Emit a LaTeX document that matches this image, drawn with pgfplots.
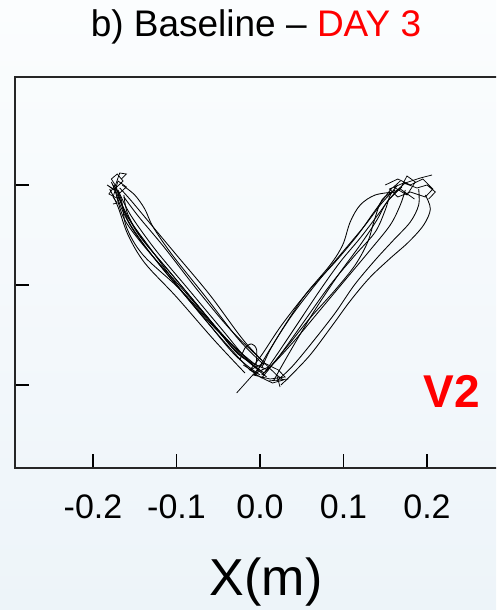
\documentclass[border=0pt]{standalone}
\usepackage{pgfplots}
\pgfplotsset{compat=1.18}
\usepackage{fontspec}
\setmainfont{Liberation Sans}
\definecolor{bgtop}{HTML}{FBFDFE}
\definecolor{bgbot}{HTML}{EDF4F9}
\tikzset{tr/.style={black, line width=0.85pt, smooth, tension=0.55, mark=none},
         sq/.style={black, line width=0.75pt, mark=none}}
\begin{document}
\begin{tikzpicture}[x=1pt,y=1pt]
\useasboundingbox (0,0) rectangle (496,610);
\shade[top color=bgtop, bottom color=bgbot] (0,0) rectangle (496,610);
\clip (0,0) rectangle (496,610);
\begin{axis}[at={(15pt,142pt)}, anchor=south west, scale only axis,
  width=490pt, height=391pt,
  xmin=-0.2934, xmax=0.2934, ymin=-0.083, ymax=0.308,
  axis line style={line width=1.3pt, color=black!85},
  tick style={line width=1.5pt, black},
  major tick length=14pt, tick align=inside, tick pos=left,
  xtick={-0.2,-0.1,0,0.1,0.2}, xticklabels={-0.2,-0.1,0.0,0.1,0.2},
  ytick={0,0.1,0.2}, yticklabels={},
  xticklabel style={font=\fontsize{34}{34}\selectfont, anchor=base, yshift=-50pt},
  clip=true]
% ---- left arm ----
\addplot[tr] coordinates {(0.000,0.015) (-0.030,0.035) (-0.070,0.075) (-0.110,0.115) (-0.145,0.150) (-0.165,0.180) (-0.172,0.198)};
\addplot[tr] coordinates {(-0.170,0.195) (-0.155,0.170) (-0.125,0.135) (-0.085,0.095) (-0.045,0.055) (-0.015,0.025) (0.005,0.012)};
\addplot[tr] coordinates {(-0.005,0.020) (-0.040,0.045) (-0.085,0.085) (-0.125,0.125) (-0.155,0.160) (-0.168,0.185) (-0.178,0.203)};
\addplot[tr] coordinates {(-0.176,0.200) (-0.165,0.175) (-0.148,0.150) (-0.115,0.115) (-0.070,0.070) (-0.030,0.030) (0.000,0.010)};
\addplot[tr] coordinates {(-0.010,0.022) (-0.045,0.050) (-0.095,0.095) (-0.140,0.130) (-0.160,0.158) (-0.166,0.185) (-0.175,0.200)};
\addplot[tr] coordinates {(-0.165,0.200) (-0.150,0.190) (-0.138,0.176) (-0.128,0.158) (-0.105,0.130) (-0.065,0.088) (-0.025,0.045) (0.005,0.020)};
\addplot[tr] coordinates {(0.010,0.018) (-0.020,0.045) (-0.060,0.090) (-0.100,0.130) (-0.130,0.160) (-0.155,0.185) (-0.168,0.197)};
\addplot[tr] coordinates {(0.002,0.025) (-0.035,0.055) (-0.075,0.095) (-0.115,0.138) (-0.145,0.168) (-0.163,0.188)};
\addplot[tr] coordinates {(-0.163,0.190) (-0.158,0.170) (-0.140,0.145) (-0.100,0.105) (-0.060,0.065) (-0.025,0.030) (0.010,0.015)};
\addplot[tr] coordinates {(-0.012,0.015) (-0.050,0.050) (-0.090,0.090) (-0.130,0.135) (-0.160,0.170) (-0.170,0.192)};
\addplot[tr] coordinates {(-0.172,0.190) (-0.162,0.165) (-0.135,0.135) (-0.095,0.098) (-0.055,0.060) (-0.020,0.028) (0.008,0.008)};
\addplot[tr] coordinates {(-0.018,0.012) (-0.055,0.045) (-0.100,0.088) (-0.138,0.122) (-0.158,0.150) (-0.170,0.178) (-0.180,0.196)};
% left target jitter
\addplot[sq] coordinates {(-0.172,0.198) (-0.178,0.206) (-0.171,0.211) (-0.164,0.204) (-0.175,0.195) (-0.183,0.200) (-0.168,0.192) (-0.160,0.198) (-0.170,0.204) (-0.176,0.188) (-0.171,0.182) (-0.176,0.181)};
\addplot[sq] coordinates {(-0.166,0.206) (-0.160,0.211) (-0.168,0.212) (-0.173,0.200) (-0.181,0.191) (-0.169,0.186)};
% ---- right arm ----
\addplot[tr] coordinates {(0.162,0.193) (0.138,0.190) (0.120,0.180) (0.108,0.163) (0.099,0.140) (0.084,0.120) (0.054,0.090) (0.030,0.060) (0.012,0.035) (0.002,0.017)};
\addplot[tr] coordinates {(0.198,0.190) (0.204,0.176) (0.196,0.160) (0.178,0.143) (0.155,0.126) (0.131,0.107) (0.108,0.084) (0.087,0.060) (0.060,0.030) (0.035,0.008) (0.025,0.000)};
\addplot[tr] coordinates {(0.006,0.013) (0.024,0.035) (0.048,0.065) (0.072,0.095) (0.096,0.123) (0.120,0.147) (0.141,0.170) (0.156,0.187) (0.168,0.197)};
\addplot[tr] coordinates {(-0.006,0.010) (0.010,0.033) (0.036,0.067) (0.066,0.100) (0.096,0.130) (0.126,0.160) (0.144,0.180) (0.158,0.193)};
\addplot[tr] coordinates {(0.002,0.007) (0.024,0.030) (0.054,0.065) (0.084,0.100) (0.114,0.130) (0.138,0.153) (0.150,0.175) (0.156,0.190) (0.165,0.200)};
\addplot[tr] coordinates {(0.174,0.195) (0.168,0.180) (0.156,0.160) (0.132,0.135) (0.102,0.105) (0.072,0.075) (0.042,0.045) (0.018,0.023) (0.006,0.013)};
\addplot[tr] coordinates {(0.162,0.195) (0.146,0.185) (0.137,0.165) (0.129,0.143) (0.114,0.120) (0.090,0.095) (0.060,0.067) (0.034,0.040) (0.014,0.020) (0.002,0.010)};
\addplot[tr] coordinates {(-0.012,0.015) (0.002,0.030) (0.026,0.060) (0.057,0.093) (0.090,0.123) (0.117,0.150) (0.134,0.170) (0.147,0.185) (0.158,0.197)};
\addplot[tr] coordinates {(0.190,0.196) (0.190,0.180) (0.180,0.163) (0.160,0.145) (0.138,0.125) (0.113,0.100) (0.090,0.072) (0.062,0.042) (0.038,0.018) (0.020,0.004)};
\addplot[tr] coordinates {(0.016,0.004) (0.035,0.032) (0.062,0.070) (0.092,0.108) (0.120,0.140) (0.140,0.165) (0.152,0.183) (0.170,0.198)};
% right target jitter
\addplot[sq] coordinates {(0.150,0.200) (0.165,0.206) (0.180,0.200) (0.195,0.206) (0.207,0.196) (0.198,0.188) (0.180,0.193) (0.165,0.188) (0.155,0.196) (0.172,0.202) (0.188,0.197) (0.200,0.200) (0.210,0.193) (0.202,0.186)};
\addplot[sq] coordinates {(0.160,0.192) (0.174,0.202) (0.192,0.207) (0.206,0.210)};
\addplot[sq] coordinates {(0.168,0.204) (0.160,0.198) (0.176,0.190) (0.186,0.203) (0.176,0.209) (0.168,0.196) (0.185,0.186)};
% ---- home jitter ----
\addplot[tr] coordinates {(-0.024,0.025) (-0.018,0.037) (-0.010,0.041) (-0.004,0.035) (-0.005,0.017)};
\addplot[sq] coordinates {(0.002,0.020) (-0.028,-0.008)};
\addplot[sq] coordinates {(-0.020,0.020) (-0.005,0.012) (0.010,0.018) (0.020,0.010) (0.028,0.005) (0.015,0.002) (0.000,0.008) (-0.012,0.015) (0.005,0.022) (0.022,0.015) (0.030,0.008) (0.012,0.006) (-0.008,0.010) (0.004,0.016)};
\addplot[sq] coordinates {(0.020,0.010) (0.024,-0.002)};
\addplot[sq] coordinates {(0.010,0.004) (0.034,0.006)};
\end{axis}
\node[anchor=base, font=\fontsize{37}{37}\selectfont] at (256,573) {b) Baseline – \textcolor{red}{DAY 3}};
\node[anchor=base, font=\fontsize{52}{52}\selectfont] at (266,14) {X(m)};
\node[anchor=base, font=\fontsize{46}{46}\selectfont\bfseries, text=red] at (452,202) {V2};
\end{tikzpicture}
\end{document}
